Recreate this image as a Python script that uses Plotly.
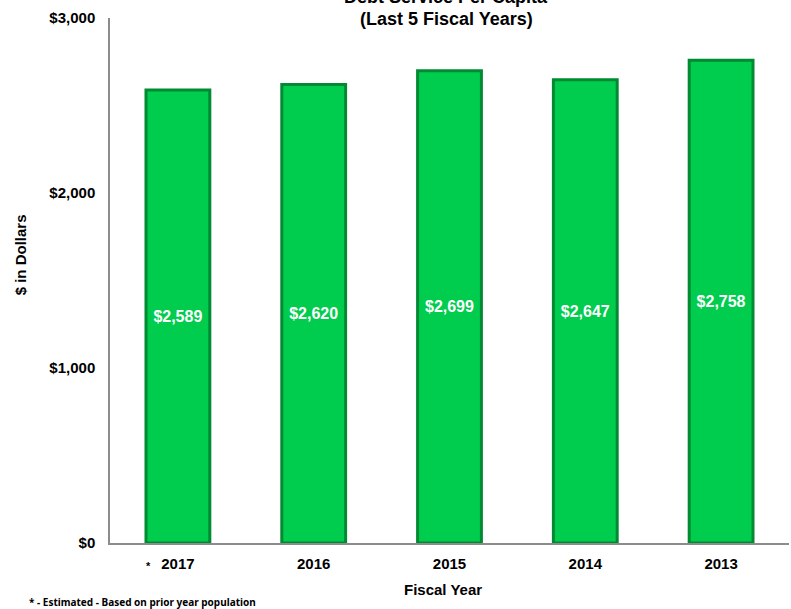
import plotly.graph_objects as go

years = ["2017", "2016", "2015", "2014", "2013"]
values = [2589, 2620, 2699, 2647, 2758]
value_labels = ["$2,589", "$2,620", "$2,699", "$2,647", "$2,758"]
estimated_year = "2017"

fig = go.Figure()
fig.add_trace(go.Bar(
    x=years, y=values,
    text=value_labels, textposition="inside", insidetextanchor="middle",
    textfont=dict(family="Liberation Sans, Arial", size=16, color="white"),
    texttemplate="<b>%{text}</b>",
    marker=dict(color="#00CC4E", line=dict(color="#008A32", width=3)),
    width=0.47,
))

fig.update_layout(
    width=791, height=609,
    margin=dict(l=110, r=2, t=18, b=66, autoexpand=False),
    plot_bgcolor="white", paper_bgcolor="white",
    showlegend=False,
    font=dict(family="Liberation Sans, Arial", color="black"),
    xaxis=dict(
        type="category", tickvals=years, range=[-0.5, len(years) - 0.5],
        ticktext=["<b>" + t + "</b>" for t in years],
        showline=True, linecolor="#8c8c8c", linewidth=1.5,
        ticks="", showgrid=False, automargin=False, ticklabelstandoff=6,
        tickfont=dict(size=15, family="Liberation Sans, Arial", color="black"),
    ),
    yaxis=dict(
        range=[0, 3000], tickvals=[0, 1000, 2000, 3000],
        ticktext=["<b>$0</b>", "<b>$1,000</b>", "<b>$2,000</b>", "<b>$3,000</b>"],
        showline=True, linecolor="#8c8c8c", linewidth=1.5,
        ticks="", showgrid=False, zeroline=False, automargin=False,
        tickfont=dict(size=15, color="black"), ticklabelstandoff=10,
    ),
)

fig.add_annotation(text="<b>*</b>", xref="x", yref="paper", x=years.index(estimated_year), y=-0.043,
                   xshift=-29, yanchor="middle", showarrow=False, font=dict(size=11))
fig.add_annotation(text="<b>Debt Service Per Capita</b>", xref="paper", yref="paper",
                   x=0.495, y=1.040, yanchor="middle", showarrow=False, font=dict(size=18))
fig.add_annotation(text="<b>(Last 5 Fiscal Years)</b>", xref="paper", yref="paper",
                   x=0.495, y=0.998, yanchor="middle", showarrow=False, font=dict(size=18))
fig.add_annotation(text="<b>$ in Dollars</b>", xref="paper", yref="paper",
                   x=-0.1325, y=0.548, xanchor="center", yanchor="middle", showarrow=False,
                   textangle=-90, font=dict(size=15))
fig.add_annotation(text="<b>Fiscal Year</b>", xref="paper", yref="paper",
                   x=0.49, y=-0.0895, yanchor="middle", showarrow=False, font=dict(size=15))
fig.add_annotation(text="<b>* - Estimated - Based on prior year population</b>", xref="paper", yref="paper",
                   x=-0.122, y=-0.113, xanchor="left", yanchor="middle", showarrow=False,
                   font=dict(size=10, family="Noto Sans, DejaVu Sans"))

fig.write_html("out.html", config={"displayModeBar": False},
               post_script="document.body.style.margin='0';document.body.style.overflow='hidden';")
